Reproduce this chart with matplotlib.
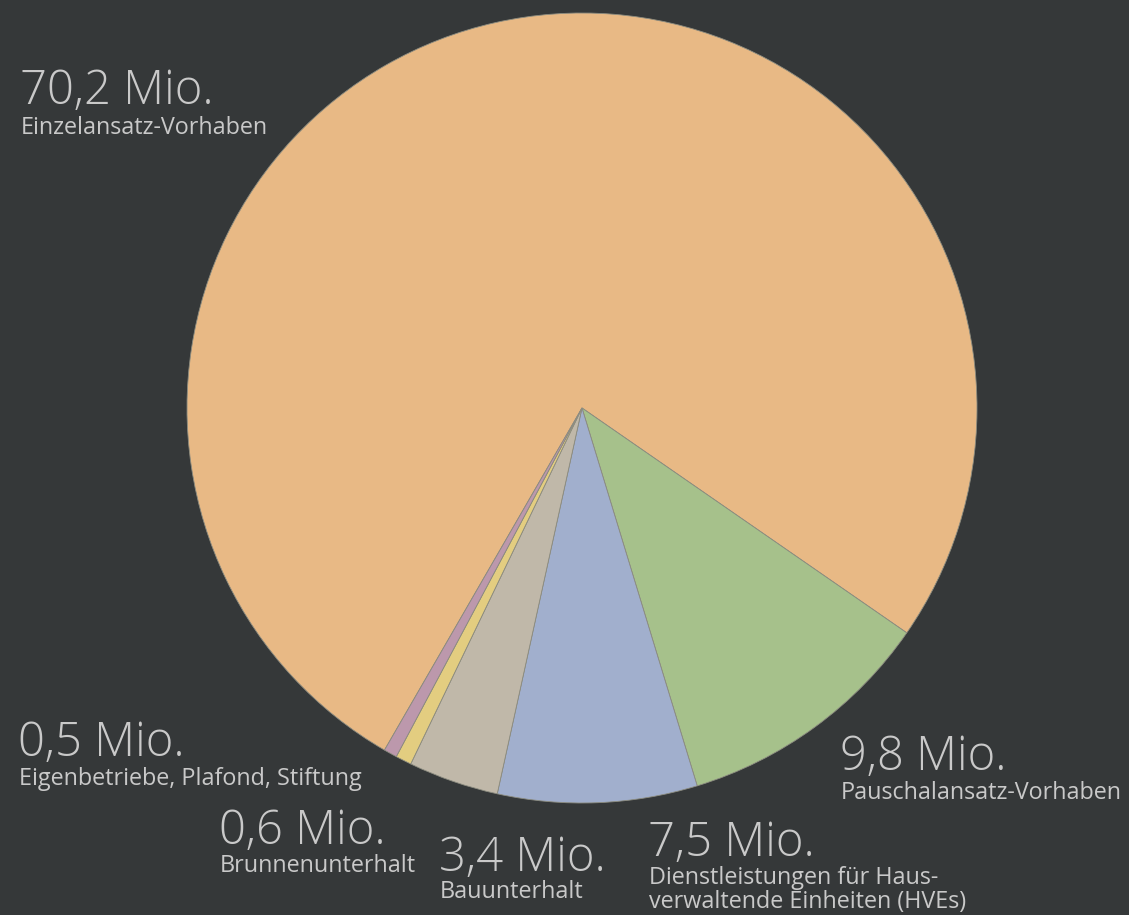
import matplotlib.pyplot as plt

# Data (Mio. CHF)
values = [70.2, 9.8, 7.5, 3.4, 0.6, 0.5]
amounts = ['70,2 Mio.', '9,8 Mio.', '7,5 Mio.', '3,4 Mio.', '0,6 Mio.', '0,5 Mio.']
names = ['Einzelansatz-Vorhaben', 'Pauschalansatz-Vorhaben',
         'Dienstleistungen für Haus-\nverwaltende Einheiten (HVEs)',
         'Bauunterhalt', 'Brunnenunterhalt', 'Eigenbetriebe, Plafond, Stiftung']
colors = ['#E8B985', '#A6C18B', '#A1AFCD', '#C0B8A9', '#E3CD80', '#BC98AC']

# label anchors in pixels from top-left: (x, amount baseline, name last-line baseline)
label_pos = [(20, 104, 134), (840, 770, 799), (648, 856, 908),
             (439, 871, 898), (219, 844, 872), (18, 756, 785)]

bg = '#353839'
txt = '#C9C9C9'

plt.rcParams['font.family'] = ['Open Sans', 'DejaVu Sans']

W, H = 1129, 915
fig = plt.figure(figsize=(W / 100, H / 100), dpi=100, facecolor=bg)
ax = fig.add_axes([0, 0, 1, 1])
ax.set_facecolor(bg)

ax.pie(values, colors=colors, startangle=240, counterclock=False,
       center=(582, H - 408), radius=395, frame=True,
       wedgeprops=dict(edgecolor='#8c8c80', linewidth=0.6))
ax.set_xlim(0, W)
ax.set_ylim(0, H)
ax.axis('off')

for amt, name, (x, y1, y2) in zip(amounts, names, label_pos):
    ax.text(x, H - y1, amt, fontsize=34, color=txt, fontweight='light',
            ha='left', va='baseline')
    ax.text(x + 1, H - y2, name, fontsize=16.8, color=txt,
            ha='left', va='baseline', linespacing=0.98)

fig.savefig('out.png', dpi=100, facecolor=bg)
